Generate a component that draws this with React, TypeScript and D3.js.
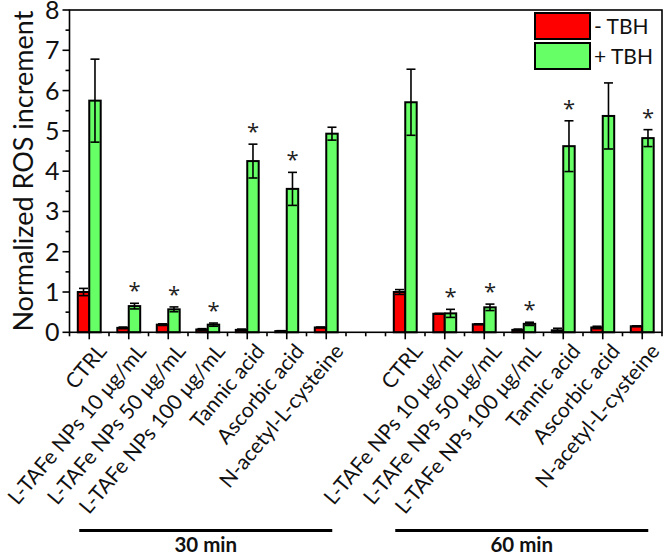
import React from "react";
import * as d3 from "d3";

const categories = [
  "CTRL",
  "L-TAFe NPs 10 μg/mL",
  "L-TAFe NPs 50 μg/mL",
  "L-TAFe NPs 100 μg/mL",
  "Tannic acid",
  "Ascorbic acid",
  "N-acetyl-L-cysteine",
];
const groups = ["30 min", "60 min"];

const minus30 = [1.0, 0.11, 0.19, 0.07, 0.06, 0.03, 0.12];
const minus30Err = [0.09, 0.02, 0.02, 0.02, 0.02, 0.01, 0.01];
const plus30 = [5.75, 0.65, 0.57, 0.19, 4.25, 3.56, 4.93];
const plus30Err = [1.03, 0.07, 0.06, 0.04, 0.42, 0.41, 0.16];
const sig30 = [false, true, true, true, true, true, false];

const minus60 = [1.0, 0.46, 0.2, 0.06, 0.05, 0.12, 0.15];
const minus60Err = [0.06, 0.01, 0.01, 0.02, 0.05, 0.03, 0.01];
const plus60 = [5.71, 0.47, 0.62, 0.21, 4.62, 5.37, 4.82];
const plus60Err = [0.82, 0.1, 0.08, 0.04, 0.63, 0.82, 0.21];
const sig60 = [false, true, true, true, true, false, true];

const yTicks = [0, 1, 2, 3, 4, 5, 6, 7, 8];
const seriesNames = ["- TBH", "+ TBH"];
const RED = "#ff0000";
const GREEN = "#66ff66";
const FONT = "Lato, 'Open Sans', sans-serif";

export default function App() {
  const W = 664;
  const H = 557;
  const left = 69.5;
  const right = 662;
  const top = 10;
  const bottom = 332.3;
  const nSlots = categories.length * 2 + 1;
  const x = d3.scaleLinear().domain([-0.5, nSlots - 0.5]).range([left, right]);
  const y = d3.scaleLinear().domain([0, 8]).range([bottom, top]);
  const slot = x(1) - x(0);
  const bw = slot * 0.29;
  const capW = 9;

  const groupsData = [
    { offset: 0, minus: minus30, minusErr: minus30Err, plus: plus30, plusErr: plus30Err, sig: sig30 },
    { offset: categories.length + 1, minus: minus60, minusErr: minus60Err, plus: plus60, plusErr: plus60Err, sig: sig60 },
  ];

  const minorY = d3.range(0.5, 8, 1);
  const xMajor: number[] = [];
  groupsData.forEach((g) => categories.forEach((_, i) => xMajor.push(g.offset + i)));
  const xMinor = d3.range(-0.5, nSlots, 0.5).filter((v) => !xMajor.includes(v));

  const errBar = (cx: number, v: number, e: number, key: string) => (
    <g key={key} stroke="#000" strokeWidth={1.6}>
      <line x1={cx} x2={cx} y1={y(v - e)} y2={y(v + e)} />
      <line x1={cx - capW / 2} x2={cx + capW / 2} y1={y(v + e)} y2={y(v + e)} />
      <line x1={cx - capW / 2} x2={cx + capW / 2} y1={y(v - e)} y2={y(v - e)} />
    </g>
  );

  return (
    <svg width={W} height={H} style={{ position: "absolute", left: 0, top: 0 }} fontFamily={FONT}>
      <rect x={0} y={0} width={W} height={H} fill="#fff" />
      {/* bars */}
      {groupsData.map((g, gi) =>
        categories.map((_, i) => {
          const cx = x(g.offset + i);
          return (
            <g key={`b${gi}-${i}`}>
              <rect x={cx - bw} y={y(g.minus[i])} width={bw} height={y(0) - y(g.minus[i])} fill={RED} stroke="#000" strokeWidth={2} />
              <rect x={cx} y={y(g.plus[i])} width={bw} height={y(0) - y(g.plus[i])} fill={GREEN} stroke="#000" strokeWidth={2} />
              {errBar(cx - bw / 2, g.minus[i], g.minusErr[i], "em")}
              {errBar(cx + bw / 2, g.plus[i], g.plusErr[i], "ep")}
              {g.sig[i] && (
                <text
                  x={cx + bw / 2}
                  y={y(g.plus[i] + g.plusErr[i]) - 5}
                  textAnchor="middle"
                  fontSize={22}
                  fontFamily="'Open Sans', sans-serif"
                  fill="#222"
                >
                  *
                </text>
              )}
            </g>
          );
        })
      )}
      {/* frame */}
      <rect x={left} y={top} width={right - left} height={bottom - top} fill="none" stroke="#000" strokeWidth={1.6} />
      {/* y ticks */}
      {yTicks.map((t) => (
        <g key={`yt${t}`}>
          <line x1={left - 7} x2={left} y1={y(t)} y2={y(t)} stroke="#000" strokeWidth={1.6} />
          <text x={left - 10} y={y(t)} dy="0.36em" textAnchor="end" fontSize={25} fill="#111">
            {t}
          </text>
        </g>
      ))}
      {minorY.map((t) => (
        <line key={`ym${t}`} x1={left - 4} x2={left} y1={y(t)} y2={y(t)} stroke="#000" strokeWidth={1.6} />
      ))}
      {/* x ticks */}
      {xMajor.map((t) => (
        <line key={`xt${t}`} x1={x(t)} x2={x(t)} y1={bottom} y2={bottom + 7} stroke="#000" strokeWidth={1.6} />
      ))}
      {xMinor.map((t) => (
        <line key={`xm${t}`} x1={x(t)} x2={x(t)} y1={bottom} y2={bottom + 4} stroke="#000" strokeWidth={1.6} />
      ))}
      {/* x labels */}
      {groupsData.map((g, gi) =>
        categories.map((c, i) => (
          <text
            key={`xl${gi}-${i}`}
            transform={`translate(${x(g.offset + i) + 18.4},${bottom + 19.5}) rotate(-50)`}
            textAnchor="end"
            fontSize={21}
            fill="#111"
          >
            {c}
          </text>
        ))
      )}
      {/* group lines */}
      {groupsData.map((g, gi) => {
        const x1 = x(g.offset) - 10;
        const x2 = x(g.offset + categories.length - 1) + 6;
        return (
          <g key={`grp${gi}`}>
            <line x1={x1} x2={x2} y1={530.5} y2={530.5} stroke="#000" strokeWidth={3} />
            <text x={(x1 + x2) / 2} y={552} textAnchor="middle" fontSize={20.5} fontWeight="bold" fill="#111">
              {groups[gi]}
            </text>
          </g>
        );
      })}
      {/* y title */}
      <text transform={`translate(33,${(top + bottom) / 2}) rotate(-90)`} textAnchor="middle" fontSize={27} fill="#111">
        Normalized ROS increment
      </text>
      {/* legend */}
      {seriesNames.map((s, i) => (
        <g key={`lg${i}`}>
          <rect x={535} y={13 + i * 30} width={55} height={26} fill={i === 0 ? RED : GREEN} stroke="#000" strokeWidth={2} />
          <text x={594} y={26 + i * 30} dy="0.36em" fontSize={21} fill="#111">
            {s}
          </text>
        </g>
      ))}
    </svg>
  );
}
